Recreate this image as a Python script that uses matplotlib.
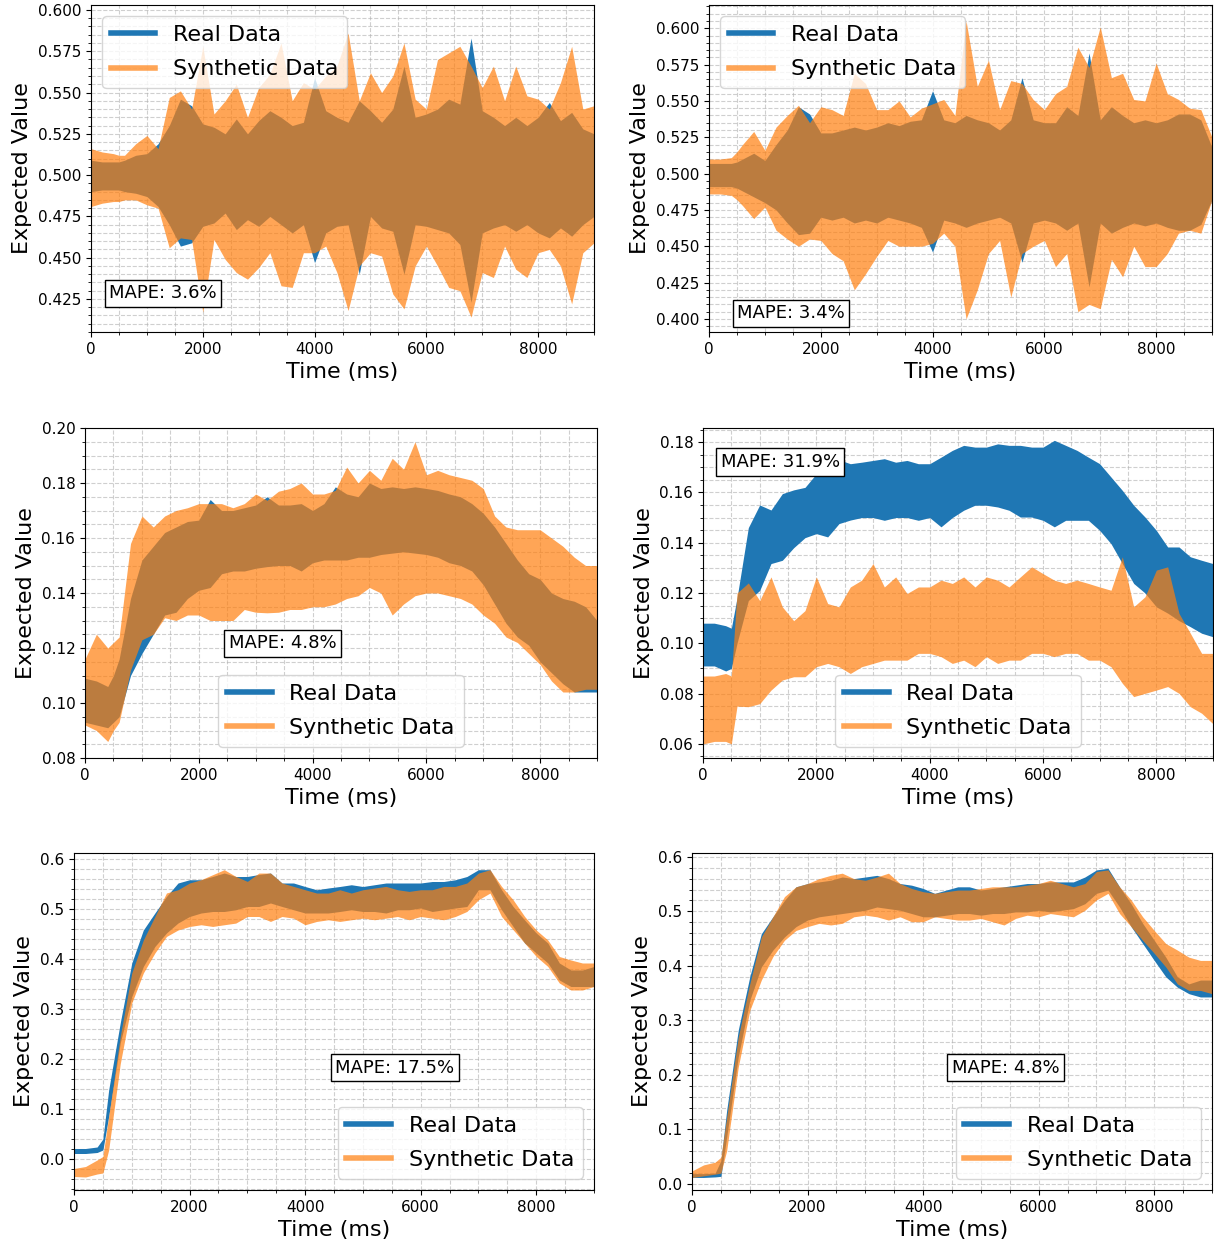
import matplotlib
matplotlib.use("Agg")
import matplotlib.pyplot as plt
from matplotlib.lines import Line2D
from matplotlib.ticker import MultipleLocator, AutoMinorLocator

# sample times (ms), shared by all panels
time_ms = [0, 200, 400, 500, 600, 800, 1000, 1200, 1400, 1600, 1800,
           2000, 2200, 2400, 2600, 2800, 3000, 3200, 3400, 3600, 3800,
           4000, 4200, 4400, 4600, 4800, 5000, 5200, 5400, 5600, 5800,
           6000, 6200, 6400, 6600, 6800, 7000, 7200, 7400, 7600, 7800,
           8000, 8200, 8400, 8600, 8800, 9000]

# panel A (top left) - upper / lower envelope of the noisy signal
a_real_hi = [0.509,0.508,0.508,0.508,0.509,0.512,0.513,0.519,0.530,0.546,0.542,
             0.531,0.529,0.525,0.534,0.525,0.533,0.539,0.535,0.530,0.532,
             0.559,0.539,0.535,0.532,0.545,0.539,0.532,0.540,0.566,0.535,
             0.537,0.540,0.546,0.543,0.583,0.539,0.535,0.530,0.535,0.530,
             0.535,0.544,0.533,0.538,0.528,0.525]
a_real_lo = [0.490,0.491,0.491,0.491,0.490,0.489,0.487,0.481,0.470,0.457,0.459,
             0.469,0.471,0.477,0.467,0.473,0.469,0.475,0.470,0.465,0.470,
             0.447,0.465,0.469,0.470,0.440,0.475,0.468,0.466,0.440,0.470,
             0.469,0.467,0.465,0.458,0.423,0.465,0.468,0.470,0.466,0.470,
             0.465,0.462,0.468,0.463,0.470,0.475]
a_syn_hi = [0.516,0.514,0.513,0.512,0.512,0.519,0.524,0.516,0.547,0.551,0.540,
            0.578,0.537,0.545,0.555,0.535,0.553,0.561,0.580,0.545,0.556,
            0.552,0.560,0.566,0.586,0.545,0.562,0.550,0.560,0.580,0.546,
            0.540,0.570,0.574,0.578,0.566,0.553,0.566,0.545,0.566,0.548,
            0.546,0.540,0.556,0.578,0.540,0.542]
a_syn_lo = [0.481,0.483,0.484,0.484,0.485,0.485,0.482,0.480,0.456,0.462,0.461,
            0.417,0.461,0.449,0.441,0.437,0.444,0.453,0.433,0.432,0.453,
            0.453,0.457,0.441,0.418,0.445,0.453,0.451,0.428,0.419,0.445,
            0.457,0.445,0.432,0.430,0.414,0.441,0.438,0.457,0.443,0.438,
            0.453,0.455,0.445,0.422,0.453,0.459]

# panel B (top right)
b_real_hi = [0.507,0.507,0.507,0.508,0.510,0.514,0.509,0.520,0.530,0.546,0.541,
             0.528,0.528,0.530,0.532,0.530,0.532,0.535,0.533,0.536,0.537,
             0.557,0.537,0.535,0.540,0.537,0.535,0.530,0.537,0.566,0.537,
             0.535,0.535,0.546,0.540,0.583,0.537,0.546,0.540,0.535,0.537,
             0.535,0.537,0.541,0.541,0.537,0.518]
b_real_lo = [0.491,0.491,0.491,0.490,0.488,0.484,0.480,0.475,0.466,0.458,0.459,
             0.470,0.468,0.470,0.466,0.468,0.466,0.470,0.468,0.466,0.463,
             0.446,0.468,0.466,0.463,0.466,0.468,0.470,0.466,0.439,0.466,
             0.468,0.466,0.461,0.466,0.422,0.466,0.459,0.463,0.466,0.464,
             0.466,0.463,0.461,0.461,0.465,0.482]
b_syn_hi = [0.510,0.510,0.511,0.515,0.520,0.529,0.516,0.532,0.540,0.547,0.535,
            0.546,0.544,0.540,0.569,0.562,0.544,0.544,0.550,0.539,0.545,
            0.548,0.551,0.540,0.605,0.560,0.578,0.544,0.564,0.562,0.551,
            0.544,0.555,0.560,0.587,0.573,0.601,0.566,0.569,0.551,0.550,
            0.576,0.555,0.551,0.545,0.544,0.525]
b_syn_lo = [0.486,0.486,0.485,0.482,0.478,0.469,0.477,0.461,0.455,0.450,0.455,
            0.454,0.445,0.440,0.420,0.431,0.443,0.454,0.450,0.450,0.450,
            0.452,0.459,0.450,0.400,0.420,0.445,0.454,0.415,0.445,0.450,
            0.454,0.436,0.445,0.405,0.410,0.407,0.441,0.429,0.450,0.436,
            0.436,0.445,0.459,0.461,0.459,0.482]

# panel C (middle left)
c_real_hi = [0.109,0.108,0.106,0.110,0.116,0.138,0.152,0.157,0.162,0.164,0.166,
             0.1665,0.174,0.170,0.170,0.171,0.172,0.175,0.172,0.172,0.1725,
             0.170,0.1725,0.1786,0.176,0.175,0.180,0.178,0.1786,0.178,0.1786,
             0.178,0.1773,0.176,0.175,0.1725,0.169,0.164,0.158,0.152,0.147,
             0.145,0.140,0.138,0.137,0.135,0.130]
c_real_lo = [0.093,0.092,0.091,0.093,0.095,0.110,0.118,0.125,0.132,0.133,0.138,
             0.141,0.142,0.147,0.148,0.148,0.149,0.1496,0.150,0.150,0.148,
             0.151,0.152,0.152,0.152,0.153,0.153,0.154,0.1545,0.155,0.1545,
             0.154,0.153,0.151,0.150,0.148,0.143,0.136,0.129,0.124,0.121,
             0.115,0.111,0.107,0.104,0.104,0.104]
c_syn_hi = [0.116,0.125,0.120,0.122,0.124,0.158,0.168,0.164,0.168,0.170,0.171,
            0.1725,0.1725,0.1725,0.171,0.1725,0.176,0.1737,0.177,0.178,0.180,
            0.176,0.176,0.1773,0.1858,0.180,0.1846,0.181,0.189,0.185,0.195,
            0.183,0.1846,0.183,0.182,0.181,0.178,0.168,0.164,0.163,0.163,
            0.163,0.160,0.157,0.153,0.150,0.150]
c_syn_lo = [0.092,0.090,0.086,0.090,0.093,0.112,0.123,0.125,0.131,0.130,0.132,
            0.132,0.130,0.130,0.130,0.134,0.133,0.1328,0.133,0.134,0.134,
            0.135,0.135,0.136,0.138,0.139,0.142,0.140,0.132,0.136,0.139,
            0.140,0.140,0.139,0.138,0.136,0.132,0.129,0.124,0.122,0.118,
            0.114,0.108,0.104,0.104,0.105,0.105]

# panel D (middle right)
d_real_hi = [0.108,0.108,0.107,0.106,0.118,0.146,0.155,0.153,0.1595,0.161,0.162,
             0.1674,0.1694,0.173,0.1714,0.172,0.1727,0.1734,0.172,0.1727,0.1714,
             0.1714,0.174,0.1767,0.1787,0.178,0.178,0.1793,0.1787,0.1787,0.178,
             0.178,0.1807,0.1787,0.1767,0.174,0.1714,0.1661,0.1608,0.1549,0.1502,
             0.1449,0.1383,0.1383,0.1344,0.133,0.1317]
d_real_lo = [0.091,0.091,0.089,0.090,0.100,0.117,0.121,0.1317,0.133,0.138,0.142,
             0.1436,0.1423,0.1476,0.149,0.150,0.150,0.1489,0.150,0.150,0.1489,
             0.150,0.1463,0.150,0.1529,0.1549,0.1549,0.1542,0.1529,0.1502,0.1502,
             0.1489,0.1463,0.1489,0.1489,0.1489,0.1449,0.1396,0.1317,0.1238,0.120,
             0.1145,0.112,0.109,0.1066,0.104,0.1026]
d_syn_hi = [0.087,0.087,0.088,0.087,0.120,0.124,0.117,0.1264,0.1145,0.109,0.113,
            0.1264,0.1158,0.1145,0.1224,0.1251,0.1317,0.1224,0.1264,0.1198,0.1224,
            0.1224,0.1251,0.1238,0.1264,0.1224,0.1264,0.1251,0.1224,0.1264,0.1304,
            0.1277,0.1251,0.1238,0.1251,0.1238,0.1224,0.1211,0.1344,0.1145,0.1185,
            0.1291,0.1304,0.1119,0.104,0.096,0.096]
d_syn_lo = [0.060,0.061,0.061,0.060,0.075,0.0748,0.076,0.0814,0.0854,0.0867,0.0867,
            0.0907,0.092,0.0907,0.088,0.0907,0.092,0.0933,0.0933,0.0933,0.096,
            0.096,0.0947,0.092,0.0933,0.0907,0.0947,0.092,0.0933,0.0933,0.096,
            0.096,0.0947,0.096,0.096,0.0933,0.0933,0.0907,0.0841,0.0788,0.0801,
            0.0814,0.0828,0.0801,0.0748,0.0722,0.068]

# panel E (bottom left)
e_real_hi = [0.021,0.021,0.024,0.040,0.138,0.272,0.392,0.458,0.492,0.525,0.552,
             0.5585,0.5585,0.565,0.572,0.565,0.565,0.569,0.572,0.552,0.552,
             0.545,0.5385,0.542,0.545,0.5485,0.545,0.5485,0.552,0.552,0.552,
             0.552,0.555,0.555,0.5585,0.565,0.5786,0.5786,0.5385,0.505,0.478,
             0.452,0.432,0.392,0.378,0.378,0.385]
e_real_lo = [0.011,0.011,0.013,0.018,0.085,0.232,0.325,0.385,0.425,0.452,0.472,
             0.485,0.492,0.495,0.495,0.4985,0.505,0.505,0.512,0.505,0.4985,
             0.492,0.492,0.492,0.495,0.4985,0.495,0.495,0.492,0.4985,0.4985,
             0.502,0.495,0.4985,0.502,0.505,0.5385,0.5385,0.4985,0.465,0.432,
             0.412,0.392,0.358,0.345,0.345,0.345]
e_syn_hi = [-0.019,-0.015,-0.002,0.005,0.085,0.245,0.372,0.438,0.485,0.532,0.5385,
            0.552,0.5586,0.5686,0.5786,0.5652,0.5552,0.5719,0.5719,0.552,0.5452,
            0.5385,0.5319,0.5319,0.5385,0.5319,0.5385,0.5419,0.5452,0.5385,0.5352,
            0.5385,0.5385,0.5452,0.5452,0.552,0.5719,0.5786,0.5452,0.5185,0.485,
            0.458,0.438,0.405,0.398,0.392,0.392]
e_syn_lo = [-0.035,-0.036,-0.030,-0.028,0.018,0.19,0.312,0.372,0.412,0.445,0.458,
            0.465,0.4685,0.4651,0.4685,0.4718,0.485,0.485,0.4751,0.485,0.4817,
            0.4685,0.4751,0.4785,0.4751,0.4785,0.4817,0.4785,0.4817,0.485,0.4785,
            0.485,0.4817,0.4785,0.485,0.4951,0.5185,0.5319,0.485,0.4585,0.4318,
            0.4051,0.3851,0.352,0.338,0.338,0.345]

# panel F (bottom right)
f_real_hi = [0.019,0.019,0.020,0.043,0.135,0.282,0.380,0.459,0.490,0.520,0.545,
             0.551,0.554,0.557,0.563,0.560,0.563,0.566,0.560,0.551,0.548,
             0.542,0.533,0.539,0.545,0.545,0.539,0.542,0.545,0.548,0.551,
             0.551,0.554,0.554,0.554,0.563,0.576,0.579,0.545,0.514,0.478,
             0.447,0.416,0.380,0.367,0.374,0.374]
f_real_lo = [0.012,0.012,0.013,0.014,0.086,0.233,0.337,0.398,0.429,0.453,0.472,
             0.484,0.490,0.493,0.496,0.499,0.502,0.508,0.505,0.502,0.496,
             0.490,0.490,0.493,0.496,0.496,0.493,0.496,0.496,0.499,0.499,
             0.502,0.499,0.502,0.505,0.514,0.533,0.539,0.508,0.472,0.441,
             0.410,0.380,0.361,0.349,0.343,0.343]
f_syn_hi = [0.024,0.035,0.040,0.049,0.122,0.269,0.367,0.453,0.490,0.527,0.545,
            0.551,0.560,0.566,0.570,0.560,0.557,0.563,0.570,0.551,0.542,
            0.536,0.533,0.536,0.539,0.539,0.542,0.545,0.545,0.545,0.548,
            0.551,0.557,0.551,0.545,0.551,0.573,0.576,0.545,0.521,0.490,
            0.465,0.441,0.429,0.416,0.410,0.410]
f_syn_lo = [0.012,0.015,0.018,0.020,0.061,0.214,0.318,0.374,0.417,0.447,0.465,
            0.472,0.478,0.475,0.478,0.490,0.493,0.490,0.484,0.490,0.481,
            0.481,0.490,0.487,0.484,0.484,0.487,0.481,0.475,0.487,0.493,
            0.490,0.496,0.493,0.490,0.502,0.521,0.533,0.496,0.472,0.447,
            0.423,0.398,0.367,0.355,0.355,0.349]

mape_labels = ["MAPE: 3.6%", "MAPE: 3.4%", "MAPE: 4.8%",
               "MAPE: 31.9%", "MAPE: 17.5%", "MAPE: 4.8%"]

W, H = 1214, 1249
fig = plt.figure(figsize=(W / 100, H / 100), dpi=100)

# pixel boxes (left, top, right, bottom), y limits, y step, legend loc, mape pos
panels = [
    ((91, 5, 594, 332), (0.405, 0.603), 0.025, "upper left", (0.036, 0.118),
     a_real_hi, a_real_lo, a_syn_hi, a_syn_lo),
    ((709, 5, 1212, 332), (0.391, 0.616), 0.025, "upper left", (0.056, 0.058),
     b_real_hi, b_real_lo, b_syn_hi, b_syn_lo),
    ((85, 428, 597, 758), (0.08, 0.20), 0.02, "lower center", (0.281, 0.348),
     c_real_hi, c_real_lo, c_syn_hi, c_syn_lo),
    ((703, 428, 1213, 758), (0.0544, 0.1856), 0.02, "lower center", (0.035, 0.897),
     d_real_hi, d_real_lo, d_syn_hi, d_syn_lo),
    ((74, 853, 594, 1190), (-0.062, 0.612), 0.1, "lower right", (0.502, 0.363),
     e_real_hi, e_real_lo, e_syn_hi, e_syn_lo),
    ((692, 853, 1212, 1190), (-0.011, 0.607), 0.1, "lower right", (0.50, 0.363),
     f_real_hi, f_real_lo, f_syn_hi, f_syn_lo),
]

blue = "#1f77b4"
orange = "#ff7f0e"

for i, (box, ylim, ystep, loc, mpos, rhi, rlo, shi, slo) in enumerate(panels):
    l, t, r, b = box
    ax = fig.add_axes([l / W, 1 - b / H, (r - l) / W, (b - t) / H])
    ax.fill_between(time_ms, rlo, rhi, color=blue, lw=0)
    ax.fill_between(time_ms, slo, shi, color=orange, alpha=0.7, lw=0)
    ax.set_xlim(0, 9000)
    ax.set_ylim(*ylim)
    ax.xaxis.set_major_locator(MultipleLocator(2000))
    ax.yaxis.set_major_locator(MultipleLocator(ystep))
    ax.xaxis.set_minor_locator(AutoMinorLocator())
    ax.yaxis.set_minor_locator(AutoMinorLocator())
    ax.grid(True, which="both", linestyle="--", color="#b0b0b0", alpha=0.6, lw=0.8)
    ax.set_axisbelow(True)
    ax.tick_params(labelsize=11)
    ax.set_xlabel("Time (ms)", fontsize=16)
    ax.set_ylabel("Expected Value", fontsize=16)
    handles = [Line2D([], [], color=blue, lw=4),
               Line2D([], [], color=orange, lw=4, alpha=0.7)]
    ax.legend(handles, ["Real Data", "Synthetic Data"], loc=loc, fontsize=16,
              labelspacing=0.65)
    ax.text(mpos[0], mpos[1], mape_labels[i], transform=ax.transAxes,
            fontsize=13, ha="left", va="center",
            bbox=dict(boxstyle="square,pad=0.25", facecolor="white", edgecolor="black"))

plt.savefig("out.png", dpi=100)
